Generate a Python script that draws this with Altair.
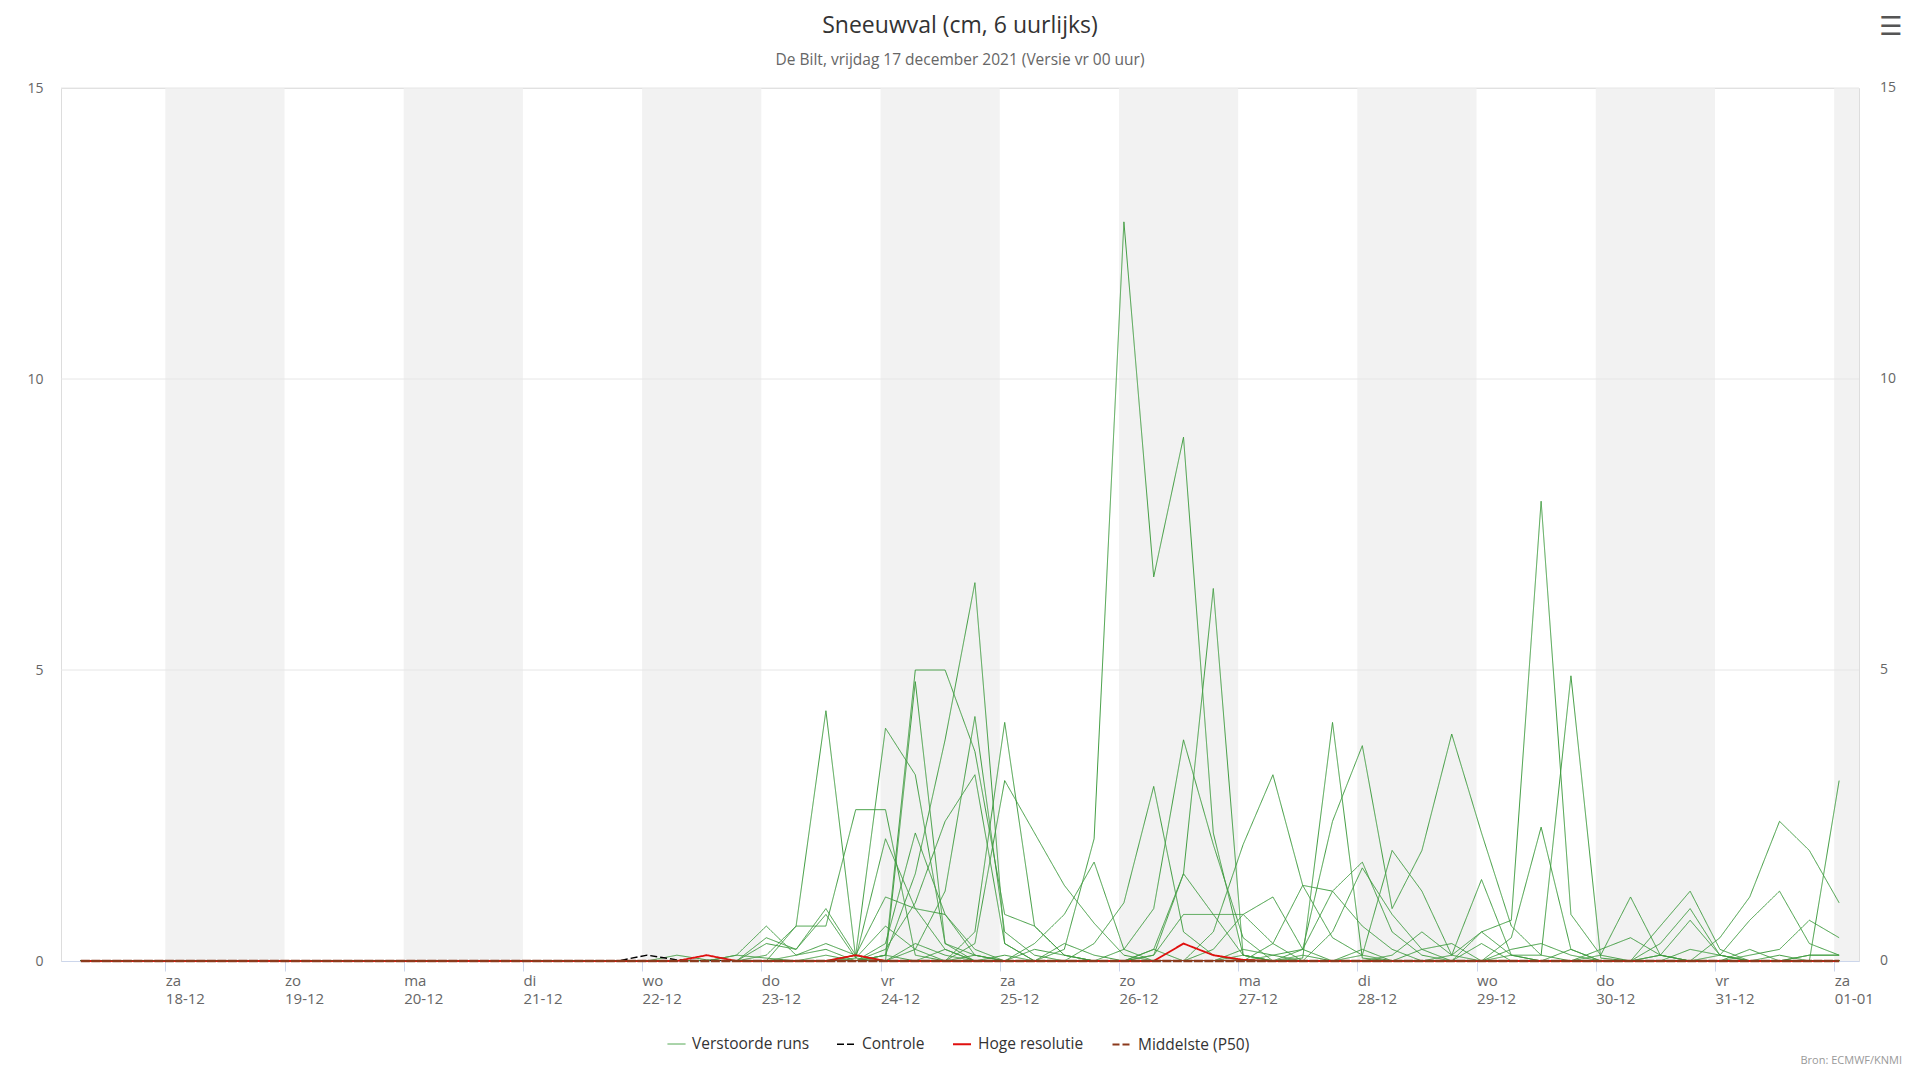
import json
import altair as alt
import pandas as pd

# ---------------- data ----------------
# time step k: 6-hourly, time = 18-12 00:00 local + (6k+1) hours
STEPS = list(range(-3, 57))

# ensemble members ("Verstoorde runs"), non-zero values per step k (cm / 6h)
members = [
    {21: 0.6, 22: 4.3, 23: 0.05},
    {20: 0.1, 21: 0.6, 22: 0.6, 23: 2.6, 24: 2.6, 25: 0.1},
    {24: 0.1, 25: 5.0, 26: 5.0, 27: 3.6, 28: 0.8, 29: 0.6, 30: 0.1},
    {25: 4.8, 26: 0.3, 27: 0.1},
    {24: 0.1, 25: 1.5, 26: 3.8, 27: 6.5, 28: 0.3},
    {23: 0.1, 24: 4.0, 25: 3.2, 26: 0.3},
    {24: 0.2, 25: 1.0, 26: 2.4, 27: 3.2, 28: 0.3},
    {25: 0.2, 26: 1.2, 27: 4.2, 28: 0.5, 29: 0.1},
    {27: 0.5, 28: 4.1, 29: 0.6, 30: 0.1},
    {27: 0.3, 28: 3.1, 29: 2.2, 30: 1.3, 31: 0.65, 32: 0.1},
    {23: 0.05, 24: 2.1, 25: 0.9, 26: 0.2},
    {24: 0.3, 25: 2.2, 26: 0.8, 27: 0.2},
    {23: 0.1, 24: 1.1, 25: 0.9, 26: 0.8, 27: 0.1},
    {19: 0.1, 20: 0.6, 21: 0.1, 22: 0.2},
    {20: 0.4, 21: 0.2, 22: 0.9, 23: 0.1},
    {20: 0.3, 21: 0.2, 22: 0.8, 23: 0.05, 24: 0.6, 25: 0.2},
    {30: 0.2, 31: 2.1, 32: 12.7, 33: 6.6, 34: 9.0, 35: 2.2, 36: 0.1},
    {33: 0.1, 34: 1.5, 35: 6.4, 36: 0.1},
    {31: 0.3, 32: 1.0, 33: 3.0, 34: 0.5, 35: 0.1},
    {32: 0.2, 33: 0.9, 34: 3.8, 35: 2.0, 36: 0.4},
    {29: 0.3, 30: 0.8, 31: 1.7, 32: 0.2},
    {33: 0.2, 34: 1.5, 35: 0.8, 36: 0.8, 37: 0.3},
    {33: 0.1, 34: 0.8, 35: 0.8, 36: 0.1},
    {35: 0.5, 36: 2.0, 37: 3.2, 38: 1.3, 39: 0.4, 40: 0.1},
    {38: 0.05, 39: 4.1, 40: 0.05},
    {38: 0.2, 39: 2.4, 40: 3.7, 41: 0.9, 42: 1.9, 43: 3.9, 44: 2.2, 45: 0.6, 46: 0.1},
    {40: 0.1, 41: 1.9, 42: 1.2, 43: 0.1},
    {37: 0.3, 38: 1.3, 39: 1.2, 40: 1.7, 41: 0.5, 42: 0.1},
    {39: 0.5, 40: 1.6, 41: 0.8, 42: 0.2},
    {35: 0.2, 36: 0.8, 37: 1.1, 38: 0.2},
    {37: 0.1, 38: 0.2, 39: 1.2, 40: 0.6, 41: 0.2},
    {43: 0.1, 44: 1.4, 45: 0.1},
    {44: 0.5, 45: 0.7, 46: 7.9, 47: 0.8, 48: 0.1},
    {45: 0.1, 46: 0.1, 47: 4.9, 48: 0.05},
    {45: 0.4, 46: 2.3, 47: 0.2},
    {48: 0.1, 49: 1.1, 50: 0.1},
    {50: 0.6, 51: 1.2, 52: 0.2},
    {50: 0.3, 51: 0.9, 52: 0.1},
    {50: 0.1, 51: 0.7, 52: 0.1},
    {52: 0.4, 53: 1.1, 54: 2.4, 55: 1.9, 56: 1.0},
    {52: 0.1, 53: 0.7, 54: 1.2, 55: 0.3, 56: 0.1},
    {53: 0.1, 54: 0.2, 55: 0.7, 56: 0.4},
    {55: 0.0, 56: 3.1},
    {41: 0.1, 42: 0.5, 43: 0.1, 44: 0.5, 45: 0.1},
    {19: 0.1, 20: 0.05, 24: 0.1, 26: 0.2, 28: 0.1, 33: 0.2, 36: 0.1, 40: 0.2,
     44: 0.3, 47: 0.2, 50: 0.1, 53: 0.2, 55: 0.1, 56: 0.1},
    {17: 0.1, 18: 0.02, 21: 0.1, 22: 0.3, 23: 0.1, 27: 0.1, 29: 0.2, 30: 0.1,
     38: 0.1, 42: 0.2, 43: 0.3, 48: 0.2, 49: 0.4, 50: 0.1, 55: 0.1, 56: 0.1},
    {22: 0.1, 25: 0.3, 26: 0.1, 30: 0.3, 31: 0.1, 36: 0.2, 37: 0.1, 45: 0.2,
     46: 0.3, 47: 0.1, 51: 0.2, 52: 0.1, 54: 0.1},
]
controle = {16: 0.1, 17: 0.02}
hoge_resolutie = {18: 0.1, 23: 0.1, 34: 0.3, 35: 0.1, 36: 0.02}
middelste = {}

kinds = ["Verstoorde runs", "Controle", "Hoge resolutie", "Middelste (P50)"]
kind_colors = ["#3f9c3f", "#000000", "#e0100f", "#8b3a1c"]
kind_dash = [[1, 0], [7, 3], [1, 0], [7, 3]]
kind_width = [1, 2.2, 2.2, 2.2]

day_names = ["za", "zo", "ma", "di", "wo", "do", "vr",
             "za", "zo", "ma", "di", "wo", "do", "vr", "za"]
day_dates = ["18-12", "19-12", "20-12", "21-12", "22-12", "23-12", "24-12",
             "25-12", "26-12", "27-12", "28-12", "29-12", "30-12", "31-12", "01-01"]
tick_hours = [24 * i for i in range(len(day_dates))]
band_start = [0, 48, 96, 144, 192, 240, 288, 336]
band_end = [24, 72, 120, 168, 216, 264, 312, 360]
y_ticks = [0, 5, 10, 15]

title_text = "Sneeuwval (cm, 6 uurlijks)"
subtitle_text = "De Bilt, vrijdag 17 december 2021 (Versie vr 00 uur)"
credit_text = "Bron: ECMWF/KNMI"

# ---------------- build tables ----------------
def rows_for(name, kind, values):
    return [{"member": name, "kind": kind, "h": 6 * k + 1, "v": values.get(k, 0.0)}
            for k in STEPS]

green_rows = []
for i, m in enumerate(members):
    green_rows += rows_for(f"m{i+1:02d}", kinds[0], m)
df_green = pd.DataFrame(green_rows)
df_ctrl = pd.DataFrame(rows_for("ctrl", kinds[1], controle))
df_hres = pd.DataFrame(rows_for("hres", kinds[2], hoge_resolutie))
df_med = pd.DataFrame(rows_for("p50", kinds[3], middelste))
df_bands = pd.DataFrame({"start": band_start, "end": band_end})
df_grid = pd.DataFrame({"g": y_ticks[1:]})
df_right = pd.DataFrame({"g": y_ticks})

W, H = 1798, 873
FONT = "Open Sans"

xscale = alt.Scale(domain=[-21, 341], nice=False, zero=False)
yscale = alt.Scale(domain=[0, 15], nice=False)

label_expr = (f"[{json.dumps(day_names)}[round(datum.value/24)], "
              f"{json.dumps(day_dates)}[round(datum.value/24)]]")
xaxis = alt.Axis(values=tick_hours, labelExpr=label_expr, title=None, grid=False,
                 domainColor="#ccd6eb", tickColor="#ccd6eb", tickSize=10,
                 labelAlign="left", labelBaseline="top", labelPadding=2,
                 labelFontSize=15, labelColor="#666666", labelFont=FONT,
                 labelLineHeight=18, labelOverlap=False, labelFlush=False)
yaxis = alt.Axis(values=y_ticks, title=None, grid=False, domain=False, ticks=False,
                 labelFontSize=14, labelColor="#666666", labelFont=FONT,
                 labelPadding=18)

color_enc = alt.Color("kind:N", scale=alt.Scale(domain=kinds, range=kind_colors),
                      legend=alt.Legend(title=None, orient="none", legendX=606,
                                        legendY=946, direction="horizontal",
                                        symbolType="stroke", symbolSize=324,
                                        labelFontSize=15.5, labelColor="#333333",
                                        labelFont=FONT, columnPadding=24,
                                        labelOffset=6))
dash_enc = alt.StrokeDash("kind:N", scale=alt.Scale(domain=kinds, range=kind_dash))
width_enc = alt.StrokeWidth("kind:N", scale=alt.Scale(domain=kinds, range=kind_width))

bands = alt.Chart(df_bands).mark_rect(color="#f2f2f2", clip=True).encode(
    x=alt.X("start:Q", scale=xscale, axis=xaxis),
    x2="end:Q",
    y=alt.value(0), y2=alt.value(H),
)
grid = alt.Chart(df_grid).mark_rule(color="#e6e6e6", strokeWidth=1).encode(
    y=alt.Y("g:Q", scale=yscale, axis=yaxis),
)

def line_layer(df, clip=True):
    return alt.Chart(df).mark_line(clip=clip).encode(
        x=alt.X("h:Q", scale=xscale, axis=xaxis),
        y=alt.Y("v:Q", scale=yscale, axis=yaxis),
        detail="member:N",
        color=color_enc,
        strokeDash=dash_enc,
        strokeWidth=width_enc,
    )

# median drawn on top with fixed styling (its legend entry comes from the shared scales)
median_line = alt.Chart(df_med).mark_line(
    clip=False, color=kind_colors[3], strokeWidth=2.6, strokeDash=[9, 1.5]
).encode(
    x=alt.X("h:Q", scale=xscale, axis=xaxis),
    y=alt.Y("v:Q", scale=yscale, axis=yaxis),
)

right_labels = alt.Chart(df_right).mark_text(
    align="left", baseline="middle", fontSize=14, color="#666666", font=FONT
).encode(
    x=alt.value(W + 21),
    y=alt.Y("g:Q", scale=yscale, axis=yaxis),
    text="g:Q",
)

def text_layer(txt, x, y, size, color, align="center", baseline="alphabetic", font=FONT):
    return alt.Chart(pd.DataFrame({"t": [txt]})).mark_text(
        align=align, baseline=baseline, fontSize=size, color=color, font=font
    ).encode(x=alt.value(x), y=alt.value(y), text="t:N")

title = text_layer(title_text, W / 2, -55, 23, "#333333")
subtitle = text_layer(subtitle_text, W / 2, -23, 15.5, "#666666")
credit = text_layer(credit_text, W + 43, H + 100, 11, "#999999", align="right",
                    baseline="middle")
menu = text_layer("☰", W + 32, -61, 26, "#555555", baseline="middle",
                  font="DejaVu Sans")

chart = alt.layer(
    bands, grid,
    line_layer(df_green), line_layer(df_ctrl), line_layer(df_hres, clip=False),
    line_layer(df_med), median_line,
    right_labels, title, subtitle, credit, menu,
).properties(
    width=W, height=H,
    autosize=alt.AutoSizeParams(type="none"),
    padding={"left": 53, "top": 80, "right": 52, "bottom": 105},
).configure_view(stroke=None).configure(background="white")

chart.save("out.html", embed_options={"renderer": "svg", "actions": False})
